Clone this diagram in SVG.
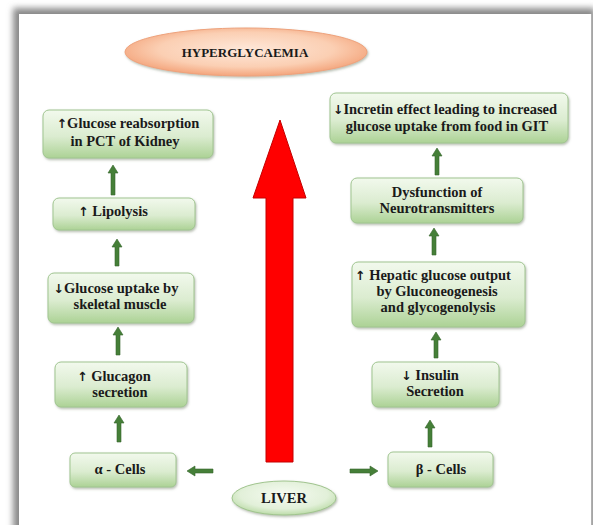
<svg xmlns="http://www.w3.org/2000/svg" width="593" height="525" viewBox="0 0 593 525">
<defs>
<linearGradient id="boxg" x1="0" y1="0" x2="0" y2="1">
<stop offset="0" stop-color="#f2f9ed"/>
<stop offset="0.55" stop-color="#dbecd0"/>
<stop offset="1" stop-color="#acd295"/>
</linearGradient>
<radialGradient id="peach" cx="0.5" cy="0.45" r="0.6">
<stop offset="0" stop-color="#fee8da"/>
<stop offset="0.6" stop-color="#fbcfb3"/>
<stop offset="1" stop-color="#f29a6e"/>
</radialGradient>
<radialGradient id="liverg" cx="0.5" cy="0.4" r="0.6">
<stop offset="0" stop-color="#f6fbf2"/>
<stop offset="0.7" stop-color="#e2f0d9"/>
<stop offset="1" stop-color="#bcdca8"/>
</radialGradient>
<filter id="blur" x="-5%" y="-5%" width="110%" height="110%"><feGaussianBlur stdDeviation="3"/></filter>
<filter id="sh" x="-10%" y="-10%" width="120%" height="130%"><feDropShadow dx="1" dy="1.5" stdDeviation="1.2" flood-color="#6f7f66" flood-opacity="0.5"/></filter>
</defs>
<style>
.box{fill:url(#boxg);stroke:#a0c590;stroke-width:1;filter:url(#sh)}
.t{font-family:"Liberation Serif","Times New Roman",serif;font-weight:bold;font-size:14.5px;fill:#1a1a1a;text-anchor:middle}
.ar{font-family:"DejaVu Sans",sans-serif;font-weight:bold;font-size:12.5px}
.ga{fill:#457f38;stroke:#36652b;stroke-width:0.6}
</style>
<rect width="593" height="525" fill="#ffffff"/>
<rect x="13" y="8" width="582" height="530" fill="#8a8a8a" filter="url(#blur)"/>
<rect x="19" y="14" width="572" height="520" fill="#ffffff"/>
<line x1="591.5" y1="14" x2="591.5" y2="525" stroke="#b0b0b0" stroke-width="1"/>

<g id="connectors">
<path id="red-arrow" d="M280,120 L306,198 L293,198 L293,462 L266,462 L266,198 L253,198 Z" fill="#ff0000" stroke="#c40000" stroke-width="1"/>
<path class="ga" d="M113,165 L118,173 L115,173 L115,195 L111,195 L111,173 L108,173 Z"/>
<path class="ga" d="M117,239 L122,247 L119,247 L119,266 L115,266 L115,247 L112,247 Z"/>
<path class="ga" d="M118,327 L123,335 L120,335 L120,355 L116,355 L116,335 L113,335 Z"/>
<path class="ga" d="M119,415 L124,423 L121,423 L121,442 L117,442 L117,423 L114,423 Z"/>
<path class="ga" d="M437,148 L442,156 L439,156 L439,175 L435,175 L435,156 L432,156 Z"/>
<path class="ga" d="M434,228 L439,236 L436,236 L436,255 L432,255 L432,236 L429,236 Z"/>
<path class="ga" d="M436,332 L441,340 L438,340 L438,358 L434,358 L434,340 L431,340 Z"/>
<path class="ga" d="M430,420 L435,428 L432,428 L432,447 L428,447 L428,428 L425,428 Z"/>
<path class="ga" d="M187,471 L195,466 L195,469 L213,469 L213,473 L195,473 L195,476 Z"/>
<path class="ga" d="M378,471 L370,466 L370,469 L350,469 L350,473 L370,473 L370,476 Z"/>
</g>

<g id="hyperglycaemia">
<ellipse cx="246" cy="52" rx="121" ry="24" fill="url(#peach)" stroke="#eea27c" stroke-width="1" filter="url(#sh)"/>
<text class="t" x="245" y="57" style="font-size:13px">HYPERGLYCAEMIA</text>
</g>

<g id="kidney">
<rect class="box" x="43" y="110" width="170" height="48" rx="6"/>
<text class="t" x="128" y="128"><tspan class="ar">↑</tspan>Glucose reabsorption</text>
<text class="t" x="125" y="146">in PCT of Kidney</text>
</g>

<g id="lipolysis">
<rect class="box" x="53" y="198" width="142" height="32" rx="6"/>
<text class="t" x="113" y="216"><tspan class="ar">↑</tspan> Lipolysis</text>
</g>

<g id="muscle">
<rect class="box" x="48" y="273" width="146" height="50" rx="6"/>
<text class="t" x="116" y="293"><tspan class="ar">↓</tspan>Glucose uptake by</text>
<text class="t" x="120" y="309">skeletal muscle</text>
</g>

<g id="glucagon">
<rect class="box" x="55" y="362" width="132" height="45" rx="6"/>
<text class="t" x="114" y="381"><tspan class="ar">↑</tspan> Glucagon</text>
<text class="t" x="120" y="397">secretion</text>
</g>

<g id="alpha">
<rect class="box" x="70" y="453" width="106" height="34" rx="5"/>
<text class="t" x="120" y="474">α - Cells</text>
</g>

<g id="liver">
<ellipse cx="284" cy="498" rx="52" ry="17" fill="url(#liverg)" stroke="#a0c48e" stroke-width="1" filter="url(#sh)"/>
<text class="t" x="284" y="503">LIVER</text>
</g>

<g id="beta">
<rect class="box" x="388" y="452" width="105" height="35" rx="5"/>
<text class="t" x="441" y="474">β - Cells</text>
</g>

<g id="incretin">
<rect class="box" x="330" y="93" width="238" height="50" rx="6"/>
<text class="t" x="445" y="114"><tspan class="ar">↓</tspan>Incretin effect leading to increased</text>
<text class="t" x="447" y="131">glucose uptake from food in GIT</text>
</g>

<g id="neuro">
<rect class="box" x="351" y="178" width="172" height="45" rx="6"/>
<text class="t" x="437" y="197">Dysfunction of</text>
<text class="t" x="437" y="213">Neurotransmitters</text>
</g>

<g id="hepatic">
<rect class="box" x="352" y="262" width="173" height="65" rx="6"/>
<text class="t" x="433" y="280"><tspan class="ar">↑</tspan> Hepatic glucose output</text>
<text class="t" x="437" y="296">by Gluconeogenesis</text>
<text class="t" x="438" y="312">and glycogenolysis</text>
</g>

<g id="insulin">
<rect class="box" x="372" y="362" width="127" height="45" rx="6"/>
<text class="t" x="430" y="380"><tspan class="ar">↓</tspan> Insulin</text>
<text class="t" x="435" y="396">Secretion</text>
</g>
</svg>
